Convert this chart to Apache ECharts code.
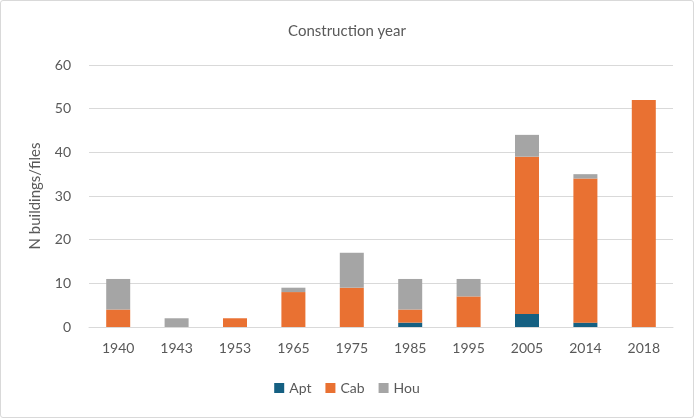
<!DOCTYPE html>
<html>
<head>
<meta charset="utf-8">
<script src="https://cdn.jsdelivr.net/npm/echarts@6/dist/echarts.min.js"></script>
<style>
html, body { margin: 0; padding: 0; background: #fff; }
#main { width: 692px; height: 416px; border: 1px solid #d9d9d9; border-radius: 3px; }
</style>
</head>
<body>
<div id="main"></div>
<script>
var years = ['1940', '1943', '1953', '1965', '1975', '1985', '1995', '2005', '2014', '2018'];
var aptData = [0, 0, 0, 0, 0, 1, 0, 3, 1, 0];
var cabData = [4, 0, 2, 8, 9, 3, 7, 36, 33, 52];
var houData = [7, 2, 0, 1, 8, 7, 4, 5, 1, 0];

var textColor = '#595959';
var fontName = 'Lato';

//柱状图
function drawChart() {
    var myChart = echarts.init(document.getElementById('main'));
    var option = {
        animation: false,
        title: {
            text: 'Construction year',
            left: 'center',
            top: 18,
            textStyle: { color: textColor, fontSize: 15, fontWeight: 'normal', fontFamily: fontName }
        },
        legend: {
            data: ['Apt', 'Cab', 'Hou'],
            bottom: 17,
            left: 'center',
            itemWidth: 10,
            itemHeight: 10,
            itemGap: 14,
            icon: 'rect',
            textStyle: { color: textColor, fontSize: 14, fontFamily: fontName }
        },
        grid: {
            left: 88,
            right: 20,
            top: 64,
            bottom: 90
        },
        xAxis: {
            type: 'category',
            data: years,
            axisTick: { show: false },
            axisLine: { lineStyle: { color: '#d9d9d9' } },
            axisLabel: { color: textColor, fontSize: 14, margin: 14, fontFamily: fontName }
        },
        yAxis: {
            type: 'value',
            min: 0,
            max: 60,
            interval: 10,
            name: 'N buildings/files',
            nameLocation: 'middle',
            nameGap: 46,
            nameTextStyle: { color: textColor, fontSize: 15, fontFamily: fontName },
            axisLabel: { color: textColor, fontSize: 14, margin: 18, fontFamily: fontName },
            splitLine: { lineStyle: { color: '#d9d9d9', width: 1 } }
        },
        series: [
            { name: 'Apt', type: 'bar', stack: 'all', barWidth: 24, data: aptData, itemStyle: { color: '#156082' } },
            { name: 'Cab', type: 'bar', stack: 'all', barWidth: 24, data: cabData, itemStyle: { color: '#E97132' } },
            { name: 'Hou', type: 'bar', stack: 'all', barWidth: 24, data: houData, itemStyle: { color: '#A5A5A5' } }
        ]
    };
    myChart.setOption(option);
}
drawChart();
</script>
</body>
</html>
